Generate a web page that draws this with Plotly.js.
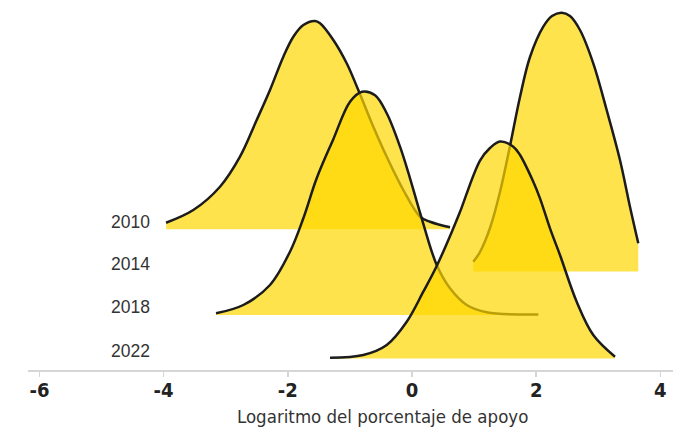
<!DOCTYPE html>
<html>
<head>
<meta charset="utf-8">
<script src="https://cdn.plot.ly/plotly-3.0.1.min.js"></script>
<style>html,body{margin:0;padding:0;background:#fff;}#chart{width:673px;height:428px;}</style>
</head>
<body>
<div id="chart"></div>
<script>
// Years (rows, top to bottom)
const years = ['2010', '2014', '2018', '2022'];

// Density curves: x = log of support percentage, h = ridge height (in row-spacing units)
const x2010 = [-3.961, -3.522, -3.092, -2.770, -2.501, -2.287, -2.072, -1.911, -1.750, -1.562, -1.481, -1.267, -1.052, -0.865, -0.623, -0.407, -0.140, 0.129, 0.290, 0.612];
const h2010 = [0.153, 0.448, 0.988, 1.684, 2.536, 3.232, 4.005, 4.469, 4.740, 4.833, 4.780, 4.392, 3.852, 3.232, 2.381, 1.684, 0.912, 0.292, 0.176, 0.046];

const x2014 = [0.987, 1.095, 1.256, 1.417, 1.578, 1.739, 1.900, 2.114, 2.254, 2.410, 2.544, 2.705, 2.919, 3.135, 3.349, 3.510, 3.644];
const h2014 = [0.230, 0.455, 1.011, 1.847, 2.914, 4.051, 4.979, 5.682, 5.930, 6.007, 5.930, 5.606, 4.833, 3.749, 2.589, 1.506, 0.657];

const x2018 = [-3.156, -2.717, -2.287, -1.965, -1.750, -1.535, -1.267, -0.998, -0.805, -0.595, -0.407, -0.193, -0.032, 0.156, 0.398, 0.612, 0.881, 1.203, 2.034];
const h2018 = [0.039, 0.232, 0.696, 1.469, 2.244, 3.172, 4.080, 4.949, 5.181, 5.100, 4.680, 3.905, 3.172, 2.244, 1.160, 0.619, 0.232, 0.063, 0.010];

const x2022 = [-1.320, -0.784, -0.407, -0.085, 0.182, 0.398, 0.665, 0.772, 1.095, 1.256, 1.417, 1.631, 1.739, 1.953, 2.061, 2.222, 2.383, 2.652, 2.919, 3.269];
const h2022 = [0.021, 0.084, 0.316, 0.856, 1.552, 2.148, 3.023, 3.400, 4.596, 4.886, 5.037, 4.916, 4.724, 4.104, 3.719, 3.023, 2.404, 1.320, 0.548, 0.044];

const seriesX = [x2010, x2014, x2018, x2022];
const seriesH = [h2010, h2014, h2018, h2022];

// x axis ticks
const tickVals = [-6, -4, -2, 0, 2, 4];
const tickText = ['-6', '-4', '-2', '0', '2', '4'];
const xTitle = 'Logaritmo del porcentaje de apoyo';

// Layout constants (pixels)
const plotH = 370;          // plot area height
const unitPx = 43.1;        // pixels per row unit
const basePx = [229.3, 271.6, 315, 358.6]; // baseline of each row from top

const axisNames = ['y', 'y2', 'y3', 'y4'];
const traces = years.map((yr, i) => ({
  type: 'scatter',
  mode: 'lines',
  name: yr,
  x: seriesX[i],
  y: seriesH[i],
  xaxis: 'x',
  yaxis: axisNames[i],
  fill: 'tozeroy',
  fillcolor: 'rgba(255,215,0,0.70)',
  line: {shape: 'spline', smoothing: 1, color: '#1c1c1c', width: 2.5},
  hoverinfo: 'skip'
}));

const layout = {
  width: 673, height: 428,
  margin: {l: 28, r: 0, t: 0, b: 58},
  paper_bgcolor: '#ffffff',
  plot_bgcolor: '#ffffff',
  showlegend: false,
  xaxis: {
    range: [-6.184, 4.203],
    tickvals: tickVals, ticktext: tickText,
    showgrid: false, zeroline: false,
    showline: true, linecolor: '#d6d6d6', linewidth: 1.5,
    ticks: 'outside', ticklen: 5, tickcolor: '#d6d6d6', tickwidth: 1.5,
    ticklabelstandoff: -4,
    tickfont: {family: '"Liberation Sans Narrow", "DejaVu Sans Condensed", sans-serif', size: 20, color: '#222222', weight: 'bold'}
  },
  annotations: []
};

axisNames.forEach((nm, i) => {
  const key = i === 0 ? 'yaxis' : 'yaxis' + (i + 1);
  const P = basePx[i];
  const ax = {
    range: [-(plotH - P) / unitPx, P / unitPx],
    visible: false, fixedrange: true
  };
  if (i > 0) ax.overlaying = 'y';
  layout[key] = ax;
  layout.annotations.push({
    text: years[i], xref: 'x', yref: nm, x: -4.187, y: 0.18,
    xanchor: 'right', yanchor: 'middle', showarrow: false,
    font: {family: '"Liberation Sans", Arial, sans-serif', size: 17.5, color: '#333333'}
  });
});

layout.annotations.push({
  text: xTitle, xref: 'paper', yref: 'paper', x: 0.5496, y: -0.127,
  xanchor: 'center', yanchor: 'middle', showarrow: false,
  font: {family: '"Liberation Sans Narrow", "DejaVu Sans Condensed", sans-serif', size: 18.5, color: '#333333'}
});

Plotly.newPlot('chart', traces, layout, {displayModeBar: false, staticPlot: true});
</script>
</body>
</html>
